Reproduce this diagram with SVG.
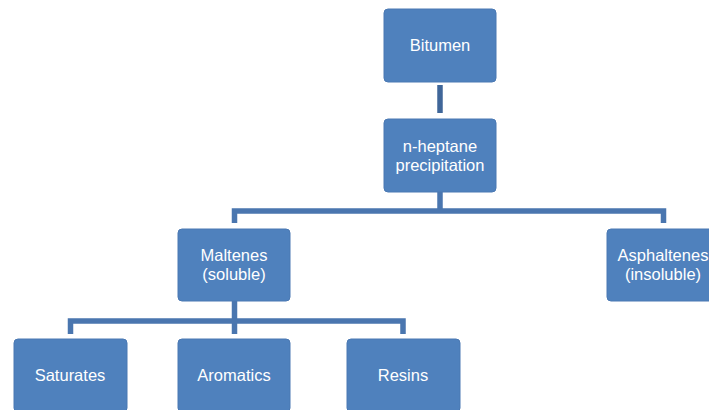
<svg xmlns="http://www.w3.org/2000/svg" width="709" height="410" viewBox="0 0 709 410">
<style>
.box{fill:#4F81BD;stroke:#4A78B3;stroke-width:1}
.lbl{fill:#FFFFFF;font-family:"Liberation Sans",Arial,sans-serif;font-size:16.5px;text-anchor:middle}
.con{fill:none;stroke:#4A76AF;stroke-width:5.5;stroke-linejoin:miter;stroke-linecap:butt}
</style>
<rect width="709" height="410" fill="#FFFFFF"/>
<g id="connectors">
<line x1="440" y1="85" x2="440" y2="113" class="con" stroke="#3F6699" style="stroke:#3F6699"/>
<path class="con" d="M440 192 V211"/>
<path class="con" d="M234.5 223 V211 H663.5 V223"/>
<path class="con" d="M234.5 301 V334"/>
<path class="con" d="M70.5 334 V321 H403 V334"/>
</g>
<g id="bitumen">
<rect class="box" x="384" y="9" width="112" height="73" rx="4"/>
<text class="lbl" x="440" y="51">Bitumen</text>
</g>
<g id="nheptane">
<rect class="box" x="384" y="119" width="112" height="73" rx="4"/>
<text class="lbl" x="440" y="152">n-heptane</text>
<text class="lbl" x="440" y="171">precipitation</text>
</g>
<g id="maltenes">
<rect class="box" x="178" y="229" width="112" height="72" rx="4"/>
<text class="lbl" x="234" y="261">Maltenes</text>
<text class="lbl" x="234" y="280">(soluble)</text>
</g>
<g id="asphaltenes">
<rect class="box" x="607" y="229" width="112" height="72" rx="4"/>
<text class="lbl" x="663" y="261">Asphaltenes</text>
<text class="lbl" x="663" y="280">(insoluble)</text>
</g>
<g id="saturates">
<rect class="box" x="14" y="339" width="113" height="73" rx="4"/>
<text class="lbl" x="70" y="381">Saturates</text>
</g>
<g id="aromatics">
<rect class="box" x="178" y="339" width="112" height="73" rx="4"/>
<text class="lbl" x="234" y="381">Aromatics</text>
</g>
<g id="resins">
<rect class="box" x="347" y="339" width="113" height="73" rx="4"/>
<text class="lbl" x="403" y="381">Resins</text>
</g>
</svg>
